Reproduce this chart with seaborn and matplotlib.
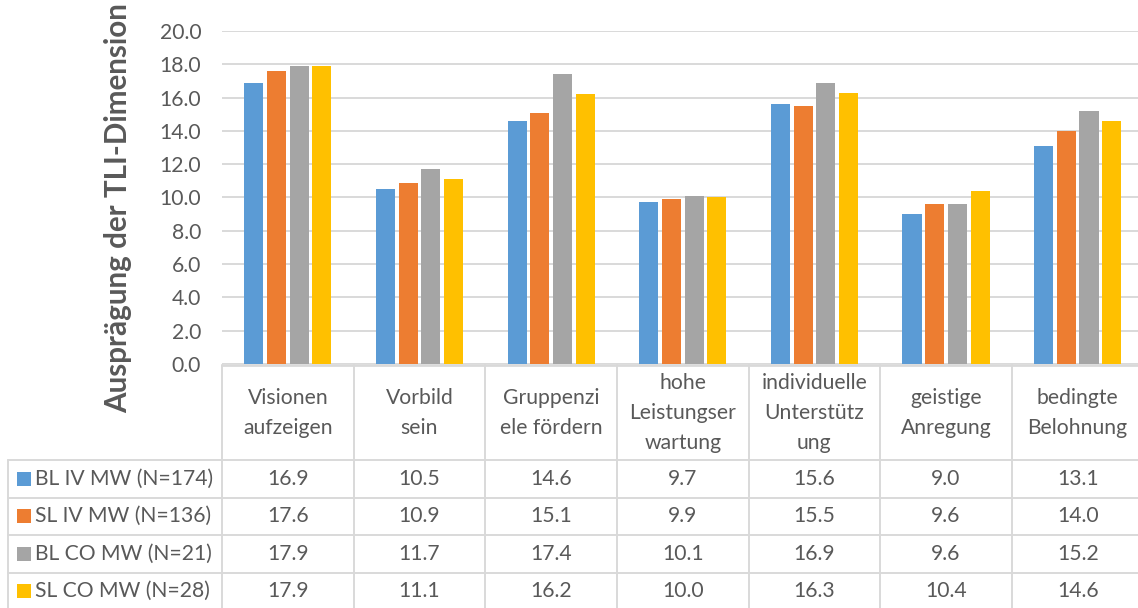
import matplotlib
matplotlib.use("Agg")
import matplotlib.pyplot as plt
import matplotlib.transforms as mtransforms
from matplotlib.patches import Rectangle
from matplotlib.lines import Line2D
import seaborn as sns
import pandas as pd

categories = ["Visionen\naufzeigen", "Vorbild\nsein", "Gruppenzi\nele fördern",
              "hohe\nLeistungser\nwartung", "individuelle\nUnterstütz\nung",
              "geistige\nAnregung", "bedingte\nBelohnung"]
series_names = ["BL IV MW (N=174)", "SL IV MW (N=136)", "BL CO MW (N=21)", "SL CO MW (N=28)"]
bl_iv = [16.9, 10.5, 14.6, 9.7, 15.6, 9.0, 13.1]
sl_iv = [17.6, 10.9, 15.1, 9.9, 15.5, 9.6, 14.0]
bl_co = [17.9, 11.7, 17.4, 10.1, 16.9, 9.6, 15.2]
sl_co = [17.9, 11.1, 16.2, 10.0, 16.3, 10.4, 14.6]
yticks = [0, 2, 4, 6, 8, 10, 12, 14, 16, 18, 20]
colors = ["#5B9BD5", "#ED7D31", "#A5A5A5", "#FFC000"]
ylabel = "Ausprägung der TLI-Dimension"

series_vals = [bl_iv, sl_iv, bl_co, sl_co]
rows = []
for s, vals in zip(series_names, series_vals):
    for c, v in zip(categories, vals):
        rows.append({"cat": c, "series": s, "val": v})
df = pd.DataFrame(rows)

sns.set_theme(style="white")
plt.rcParams["font.family"] = ["Lato", "DejaVu Sans"]

W, H = 1138, 608
FS = 15.2
TXT = "#595959"
fig = plt.figure(figsize=(W / 100, H / 100), dpi=100)

def fx(px):
    return px / W

def fy(py):
    return (H - py) / H

ax_left, ax_right, ax_top, ax_bot = 222, 1143.5, 31, 364
ax = fig.add_axes([fx(ax_left), fy(ax_bot), fx(ax_right - ax_left), (ax_bot - ax_top) / H])

sns.barplot(data=df, x="cat", y="val", hue="series", hue_order=series_names,
            order=categories, palette=colors, width=0.69, gap=0.16,
            linewidth=0, saturation=1, ax=ax, legend=False)

ax.set_xlim(-0.5, len(categories) - 0.5)
ax.set_ylim(0, 20)
ax.set_yticks(yticks)
ax.set_yticklabels([f"{t:.1f}" for t in yticks], fontsize=FS, color=TXT)
ax.tick_params(axis="y", length=0, pad=15)
ax.set_xticks([])
ax.set_xlabel("")
ax.set_ylabel("")
for sp in ax.spines.values():
    sp.set_visible(False)
ax.yaxis.grid(True, color="#D9D9D9", linewidth=1.4)
ax.set_axisbelow(True)

fig.text(fx(118), fy(208), ylabel, rotation=90, ha="center", va="center",
         fontsize=21.3, fontweight="bold", color=TXT)

# Table drawn with category x data coords and pixel y
trans = mtransforms.blended_transform_factory(ax.transData, fig.transFigure)
grid_c = "#D9D9D9"
lw = 1.4
n = len(categories)

row_edges = [366, 460, 497.5, 535, 572.5, 610]
fig.add_artist(Line2D([fx(ax_left), fx(ax_right)], [fy(364.5), fy(364.5)],
                      transform=fig.transFigure, color=grid_c, lw=2))
for yy in row_edges[1:]:
    fig.add_artist(Line2D([fx(8), fx(ax_right)], [fy(yy), fy(yy)],
                          transform=fig.transFigure, color=grid_c, lw=lw))
fig.add_artist(Line2D([fx(8), fx(8)], [fy(460), fy(610)], transform=fig.transFigure, color=grid_c, lw=lw))
for i in range(n + 1):
    xb = i - 0.5
    ax.add_line(Line2D([xb, xb], [fy(364.5), fy(610)], transform=trans, color=grid_c, lw=lw, clip_on=False))

hc = (366 + 460) / 2
for i, c in enumerate(categories):
    ax.text(i, fy(hc), c, transform=trans, ha="center", va="center", fontsize=FS,
            color=TXT, linespacing=1.62, clip_on=False)

for r, (s, vals, col) in enumerate(zip(series_names, series_vals, colors)):
    yc = (row_edges[r + 1] + row_edges[r + 2]) / 2
    fig.add_artist(Rectangle((fx(17), fy(yc + 7)), fx(14), 14 / H, transform=fig.transFigure,
                             facecolor=col, edgecolor="none"))
    fig.text(fx(35), fy(yc), s, ha="left", va="center", fontsize=FS, color=TXT)
    for i, v in enumerate(vals):
        ax.text(i, fy(yc), f"{v:.1f}", transform=trans, ha="center", va="center",
                fontsize=FS, color=TXT, clip_on=False)

fig.savefig("out.png", dpi=100)
